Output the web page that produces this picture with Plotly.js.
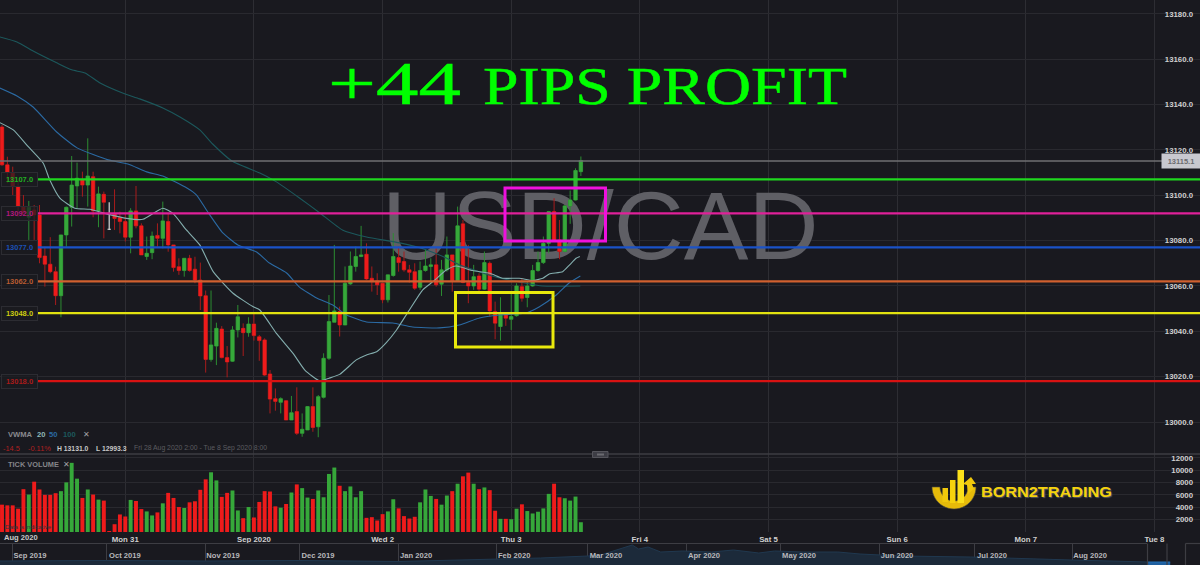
<!DOCTYPE html>
<html><head><meta charset="utf-8">
<script src="https://cdn.plot.ly/plotly-3.0.1.min.js"></script>
<style>html,body{margin:0;padding:0;background:#19191f;overflow:hidden}#c{width:1200px;height:565px}</style>
</head><body><div id="c"></div>
<script>
// candle index 0 = first hourly bar, Fri 28 Aug 2020
const opens=[13130.1,13113.4,13110,13103.8,13095,13090.3,13093.5,13091.3,13073.2,13069.6,13066.3,13055.7,13082.5,13094.7,13104.1,13106.7,13104.5,13108.2,13093.1,13100.4,13085,13091.8,13090.1,13088.4,13081.5,13093.1,13086.5,13073,13074.7,13082.3,13081,13088.4,13078.1,13068.5,13066.8,13072.2,13067.4,13062.6,13055.7,13027.6,13033.5,13041,13028.4,13026.8,13040.6,13041.3,13039.4,13043.2,13037.6,13036.2,13021.2,13010.3,13008.7,13009.4,13000.9,13004.6,12995,12996.5,13006.8,12997.9,13010.9,13028.1,13044,13048.7,13042.8,13060.9,13068.6,13073,13074,13063.4,13062.2,13061.2,13053.9,13064.6,13072.5,13070.8,13067.1,13066.3,13059.4,13066.8,13068.6,13069.3,13060.8,13067.1,13073.7,13062.4,13087.4,13061.5,13060,13064.4,13058.6,13070,13048.7,13042.1,13047.7,13045.3,13046.9,13059.7,13054.9,13060,13066.8,13070.3,13078.8,13092.8,13080.3,13075.2,13095.3,13097.9,13110.4];
const highs=[13131,13117,13112.6,13106.8,13100.1,13097.5,13095.7,13095.7,13077.3,13081.5,13068.5,13082.5,13095,13117.3,13114.4,13110.4,13125.1,13110.4,13103.8,13101.6,13096.9,13102.6,13092.8,13092,13094.3,13104.1,13087.6,13081.8,13084,13087.6,13097.2,13092,13078.1,13072.2,13072.2,13073.7,13072.9,13070.3,13058,13058,13043.8,13042.3,13033.5,13042.3,13051.6,13043.5,13046.2,13047.9,13038.4,13036.9,13022.9,13014.8,13010.9,13009.7,13011.5,13015.3,13003.8,13007,13015.3,13011.9,13030.3,13056,13078.1,13050.9,13068.6,13075.2,13077.4,13086.5,13078.8,13068.6,13065.6,13061.2,13064.9,13083.3,13077.4,13075.2,13069.3,13070,13070.8,13076.3,13072.2,13076.6,13071.5,13081.8,13073.7,13095,13089.1,13078.1,13069.3,13065.6,13075.2,13070.8,13053.1,13055,13048,13056.8,13061.2,13063.4,13061.9,13069.3,13075.2,13081.8,13093.1,13098.7,13089.1,13095.7,13102.1,13111.9,13117.1];
const lows=[13113,13105.3,13100.1,13090.3,13091.3,13080.3,13080.3,13070,13059.7,13065.6,13051.6,13046.2,13077.3,13086.2,13094.3,13099.4,13095,13090.3,13085.9,13081,13084.7,13084.7,13083.2,13079.6,13074.4,13085.4,13073.7,13071.5,13071.8,13077.3,13076.6,13075.1,13066.3,13064.9,13064.1,13066.3,13061.2,13049.4,13021.8,13026.6,13025.1,13028.1,13019.7,13026.5,13037.3,13029.1,13037.6,13035.9,13027,13020.3,13003.8,13005,13003.8,13000.9,13000.9,12994.3,12993.5,12996.5,12995.7,12993.3,13010.4,13027.4,13044,13037.7,13042.8,13060.5,13066.3,13072.7,13062.7,13057.5,13056,13052.4,13052.7,13064.1,13066.3,13066.3,13061.5,13058.3,13058.3,13066.3,13061.2,13059.7,13055.6,13066.3,13057.5,13061.9,13061.2,13052.4,13058.3,13056.8,13058.3,13046.5,13036.5,13035.9,13042.4,13040.6,13046.5,13053.1,13050.6,13059.7,13066.3,13069.7,13074.4,13080.3,13071.8,13074.9,13087.4,13097.7,13108.5];
const closes=[13113.4,13110,13104.1,13095,13092.3,13094.7,13091.3,13072.5,13069.6,13066.3,13055.7,13082.5,13094.7,13104.5,13107.5,13104.5,13108.5,13093.1,13100.6,13096.9,13085,13089.8,13088.4,13081.5,13093.1,13086.5,13073.7,13074.4,13082,13081,13088.7,13078.1,13068.1,13066.8,13072.2,13066.8,13062.6,13055.6,13027.6,13034,13041.3,13028.4,13026.5,13040.6,13046.4,13039.4,13043.2,13038.1,13035.9,13020.7,13010.1,13009.1,13010.3,13000.9,13004.1,12995,12996.8,13006.8,12997.6,13011.2,13028.1,13044.3,13049,13042.8,13061.2,13068.8,13073,13073.7,13063.1,13061.9,13060.5,13053.9,13064.9,13073,13070.3,13067.1,13066,13059,13066.8,13068.8,13069.3,13060.5,13067.1,13073.7,13062.4,13086.5,13061.5,13060,13064.1,13058.6,13070.3,13049,13043.6,13048.3,13045.8,13046.5,13060,13054.6,13060,13066.8,13070.3,13078.8,13092.8,13080.3,13075.2,13095.3,13097.9,13110.9,13115.3];
const volumes=[4420,4310,4310,3770,6930,6060,8140,6880,6010,6010,6280,6610,8030,11190,8630,5510,6880,6060,5240,5080,160,1260,2840,2510,5190,5020,3710,3330,2680,3170,4640,6330,5510,4040,3880,4800,4970,6830,8520,9660,8350,5680,6330,6720,3490,2240,4040,2350,4860,6610,6550,4150,3930,4530,6390,7700,7100,5570,5350,6720,5620,9390,10430,7480,6610,7370,5620,6610,2290,2400,1860,2890,3330,5300,3820,2570,2180,2460,4800,6880,5840,5350,4420,5900,6610,7810,9010,9610,7810,6930,7210,6770,3440,2130,2130,2070,3770,4480,3390,3000,3280,3820,6170,7810,5620,5460,5080,5730,1580];

// VWMA lines, read as vertices: candle position and price
const vwma20X=[-0.4,2.1,4.9,7.7,8.9,10.8,13.6,16.4,19.5,23.2,26.3,30,31.9,34.4,36.9,39.4,43.1,46.8,48.1,51.2,54.3,56.5,59.3,61,63,66.1,68,69.9,71.7,73.6,76,78.5,80.4,82.9,84.7,87.8,91,93.4,96.5,99,100.9,102.1,104.6,105.9,107.1,107.8];
const vwma20Y=[13132,13128.8,13121.4,13114.1,13106.8,13098.7,13094.3,13093.8,13091.8,13089.8,13089.4,13094.3,13092,13084.7,13078.1,13066.3,13056.8,13050.9,13049.4,13039.1,13030.3,13022.9,13018.1,13019.3,13021,13027.4,13029.6,13031,13035,13040.6,13049.4,13058.3,13061.9,13067,13068.8,13066.8,13065.6,13063.4,13063.4,13062.4,13063.4,13065.3,13066.3,13069.3,13072.2,13073];
const vwma50X=[-0.4,2.8,5.8,10.2,14,19.8,23.5,27,30,34.5,36.3,38.4,41.2,44,47.5,49.9,53.1,55.5,58.7,61.7,64.3,68,72.9,76.6,81.6,85.3,89.1,92.8,97.8,100.2,103.4,105.8,107.9];
const vwma50Y=[13147.3,13143.8,13138.9,13127.9,13120.9,13115.6,13113.8,13110.3,13108.5,13103.2,13100.1,13092.6,13083.4,13078.1,13075,13070.1,13065.7,13059.5,13054.7,13051.6,13047.2,13044.1,13043.7,13041.9,13041.5,13042.8,13045.9,13047.2,13048.1,13050.7,13056,13061.3,13064.4];
const vwma100X=[-0.4,2.8,5.8,10.2,13,15.5,18.3,22.5,25.7,30,33.2,36.9,39.3,42.9,48.1,51.2,55.5,59.3,63.5,68,74.2,79.2,82.9,85.3,89.1,92.8,96.5,100.8,107.9];
const vwma100Y=[13169.8,13167.6,13163.6,13158.4,13155.3,13153.9,13149.5,13145.1,13142.5,13138.5,13134.5,13128.8,13122.6,13115.1,13109.8,13105.9,13098.8,13092.2,13084.7,13081.6,13079,13075.9,13072.3,13069.3,13066.2,13063.5,13061.8,13060,13060];

const levels=[13107,13092,13077,13062,13048,13018];
const levelLabels=["13107.0","13092.0","13077.0","13062.0","13048.0","13018.0"];
const levelColors=["#1fd81f","#e0209a","#1a52c8","#d0602f","#e2e210","#d81212"];
const levelTextColors=["#22b022","#b0187c","#1c50b4","#b85c32","#cccc10","#a81a1a"];

const priceTicks=[13000,13020,13040,13060,13080,13100,13120,13140,13160,13180];
const volumeTicks=[2000,4000,6000,8000,10000,12000];
const timeTickPos=[23,47,71,95,119,143,167,191,215];
const timeTickText=["Mon 31","Sep 2020","Wed 2","Thu 3","Fri 4","Sat 5","Sun 6","Mon 7","Tue 8"];

const navDates=["2019-08-28","2019-10-01","2019-11-01","2019-12-01","2020-01-01","2020-02-01","2020-02-15","2020-03-01","2020-03-05","2020-03-15","2020-03-17","2020-03-20","2020-03-24","2020-03-31","2020-04-09","2020-04-16","2020-04-24","2020-04-29","2020-05-08","2020-05-19","2020-05-26","2020-06-08","2020-06-30","2020-08-01","2020-08-25"];
const navValues=[13199,13240,13199,13240,13158,13361,13442,13604,13685,14495,14171,14333,13928,14009,13928,14090,13847,14009,13928,13928,13766,13604,13523,13280,13118];
const navWindowDates=["2020-08-25","2020-09-01"];
const navWindowValues=[13118,13118];
const navTicks=["2019-09-01","2019-10-01","2019-11-01","2019-12-01","2020-01-01","2020-02-01","2020-03-01","2020-04-01","2020-05-01","2020-06-01","2020-07-01","2020-08-01"];
const navTickText=["Sep 2019","Oct 2019","Nov 2019","Dec 2019","Jan 2020","Feb 2020","Mar 2020","Apr 2020","May 2020","Jun 2020","Jul 2020","Aug 2020"];

const W=1200,H=565,PITCH=5.36,X0=2;
const px=p=>(p-X0)/PITCH;
const ax=p=>p/W, ay=p=>1-p/H;
const FONT="Liberation Sans, Arial, sans-serif";
const idx=opens.map((_,i)=>i);
const DOJI=20;
const notDoji=idx.filter(i=>i!==DOJI);
const RED="#ee1b1b",GREEN="#36a83a";
const isUp=i=>closes[i]>opens[i];

const priceRange=[12985.9,13186.1];
const traces=[];
traces.push({type:'scatter',mode:'text',x:[111.6],y:[13082.4],text:['USD/CAD'],textposition:'middle center',
  textfont:{family:FONT,size:97,color:'#5f5f65'},xaxis:'x',yaxis:'y',hoverinfo:'skip',showlegend:false,cliponaxis:false});
const pick=(a,s)=>s.map(i=>a[i]);
traces.push({type:'candlestick',x:notDoji,open:pick(opens,notDoji),high:pick(highs,notDoji),low:pick(lows,notDoji),close:pick(closes,notDoji),
  xaxis:'x',yaxis:'y4',whiskerwidth:0,
  increasing:{line:{color:'#2c8c32',width:1},fillcolor:'rgba(0,0,0,0)'},
  decreasing:{line:{color:'#a81c1c',width:1},fillcolor:'rgba(0,0,0,0)'},hoverinfo:'skip',showlegend:false});
traces.push({type:'candlestick',x:notDoji,open:pick(opens,notDoji),close:pick(closes,notDoji),
  high:notDoji.map(i=>Math.max(opens[i],closes[i])),low:notDoji.map(i=>Math.min(opens[i],closes[i])),
  xaxis:'x',yaxis:'y4',whiskerwidth:0,
  increasing:{line:{color:GREEN,width:0},fillcolor:GREEN},
  decreasing:{line:{color:RED,width:0},fillcolor:RED},hoverinfo:'skip',showlegend:false});
traces.push({type:'candlestick',x:[DOJI],open:[opens[DOJI]],high:[highs[DOJI]],low:[lows[DOJI]],close:[closes[DOJI]],
  xaxis:'x',yaxis:'y4',whiskerwidth:0,
  increasing:{line:{color:'#d8d8d8',width:1.2},fillcolor:'#d8d8d8'},decreasing:{line:{color:'#d8d8d8',width:1.2},fillcolor:'#d8d8d8'},hoverinfo:'skip',showlegend:false});
[[vwma100X,vwma100Y,'#1c585c'],[vwma50X,vwma50Y,'#2b6aa3'],[vwma20X,vwma20Y,'#84aeae']].forEach(s=>{
  traces.push({type:'scatter',mode:'lines',x:s[0],y:s[1],line:{color:s[2],width:1.1,shape:'spline',smoothing:0.5},xaxis:'x',yaxis:'y4',hoverinfo:'skip',showlegend:false});
});
traces.push({type:'scatter',mode:'lines',x:[px(0),px(1162)],y:[13115.1,13115.1],line:{color:'#6f6f73',width:1.5},xaxis:'x',yaxis:'y4',hoverinfo:'skip',showlegend:false});
levels.forEach((l,k)=>{
  traces.push({type:'scatter',mode:'lines',x:[px(38),px(1200)],y:[l,l],line:{color:levelColors[k],width:2.2},xaxis:'x',yaxis:'y4',hoverinfo:'skip',showlegend:false});
});
traces.push({type:'bar',x:idx,y:volumes,marker:{color:idx.map(i=>isUp(i)?GREEN:RED),line:{width:0}},xaxis:'x',yaxis:'y2',hoverinfo:'skip',showlegend:false});
traces.push({type:'scatter',mode:'lines',x:navDates,y:navValues,fill:'tozeroy',fillcolor:'#1c2a3a',line:{color:'#20384f',width:1},xaxis:'x2',yaxis:'y3',hoverinfo:'skip',showlegend:false});
traces.push({type:'scatter',mode:'lines',x:navWindowDates,y:navWindowValues,fill:'tozeroy',fillcolor:'#1f5f9f',line:{color:'#2370b8',width:1},xaxis:'x2',yaxis:'y3',hoverinfo:'skip',showlegend:false});

const annotations=[];
levels.forEach((l,k)=>annotations.push({xref:'paper',yref:'y',x:ax(19),y:l,text:levelLabels[k],showarrow:false,
  font:{family:FONT,size:7.5,color:levelTextColors[k],weight:700},bgcolor:'rgba(26,26,32,0.72)',bordercolor:'#2c2c32',borderwidth:1,borderpad:0,width:35,height:13,xanchor:'center',yanchor:'middle'}));
const note=(x,y,text,font,extra)=>annotations.push(Object.assign({xref:'paper',yref:'paper',x:ax(x),y:ay(y),text,showarrow:false,xanchor:'left',yanchor:'middle',borderpad:0,font:Object.assign({family:FONT},font)},extra||{}));
note(394,82.5,'+44',{family:'Liberation Serif, serif',size:62,color:'#00ff00'},{xanchor:'center'});
note(665,85.5,'PIPS PROFIT',{family:'Liberation Serif, serif',size:53,color:'#00ff00'},{xanchor:'center'});
note(1181,161,'13115.1',{size:7.5,color:'#6c6c70',weight:700},{xanchor:'center',bgcolor:'#c8c8cf',width:38,height:14});
const S=7.6;
note(6.5,434.5,'VWMA',{size:S,color:'#8a8a8e',weight:700});
note(35.5,434.5,'20',{size:S,color:'#8fb9b9',weight:700});
note(48.5,434.5,'50',{size:S,color:'#2b6aa3',weight:700});
note(62,434.5,'100',{size:S,color:'#1c585c',weight:700});
note(82,434.5,'✕',{size:S,color:'#a0a0a4'});
note(2,448,'-14.5',{size:7.4,color:'#b02020'});
note(26.5,448,'-0.11%',{size:7.4,color:'#b02020'});
note(55.5,448,'H 13131.0',{size:6.8,color:'#c8c8c8',weight:700});
note(95,448,'L 12993.3',{size:6.8,color:'#c8c8c8',weight:700});
note(133,448,'Fri 28 Aug 2020 2:00 - Tue 8 Sep 2020 8:00',{size:6.85,color:'#5c5c60'});
note(7,464.5,'TICK VOLUME',{size:7.4,color:'#85858a',weight:700});
note(62,464.5,'✕',{size:S,color:'#a0a0a4'});
note(4,526,'Data is indicative',{size:6.1,color:'#33333a'});
note(2.5,537.3,'Aug 2020',{size:7.6,color:'#c8c8c8',weight:700});
note(1046,491,'BORN2TRADING',{size:15,color:'#f5d20d',weight:700,shadow:'1px 1px 1px #5a5a5a'},{xanchor:'center'});

const rect=(x0,x1,y0,y1,c)=>({type:'rect',xref:'x',yref:'y',x0:px(x0),x1:px(x1),y0:13000+(422-y0)*0.4411,y1:13000+(422-y1)*0.4411,line:{color:c,width:3},fillcolor:'rgba(0,0,0,0)',layer:'above'});
const pp=(x,y)=>ax(x).toFixed(5)+','+ay(y).toFixed(5);
const chromeLine=(x0,y0,x1,y1,c,w)=>({type:'line',xref:'paper',yref:'paper',x0:ax(x0),y0:ay(y0),x1:ax(x1),y1:ay(y1),line:{color:c,width:w},layer:'above'});
const arcPts=(cx,cy,r,a0,a1,n)=>{let s=[];for(let k=0;k<=n;k++){const a=(a0+(a1-a0)*k/n)*Math.PI/180;s.push(pp(cx+r*Math.cos(a),cy+r*Math.sin(a)));}return s;};
const shapes=[
  rect(455.5,553,292.5,347,'#e8e80c'),
  rect(505,605.5,188,241,'#ee10dd'),
  chromeLine(0,454,1200,454,'#3d3d43',1.5),
  chromeLine(0,543.5,1147,543.5,'#3d3d43',1.2),
  chromeLine(1147.5,543.5,1147.5,565,'#3d3d43',1.2),
  chromeLine(1167,543.5,1167,565,'#3d3d43',1.2),
  chromeLine(1185.5,543.5,1200,543.5,'#3d3d43',1.2),
  chromeLine(1185.5,543.5,1185.5,565,'#3d3d43',1.2),
  {type:'rect',xref:'paper',yref:'paper',x0:ax(592.5),x1:ax(608),y0:ay(451.5),y1:ay(457.5),fillcolor:'#3d3d45',line:{color:'#55555c',width:1},layer:'above'},
  {type:'rect',xref:'paper',yref:'paper',x0:ax(597),x1:ax(604),y0:ay(453.5),y1:ay(455.5),fillcolor:'#6a6a70',line:{width:0},layer:'above'},
  {type:'path',xref:'paper',yref:'paper',path:'M'+arcPts(954,487,22,180,0,24).join('L')+'L'+arcPts(954,487,14,0,180,24).join('L')+'Z',fillcolor:'#e6bb0a',line:{color:'#4a4a40',width:0.6},layer:'above'},
  {type:'rect',xref:'paper',yref:'paper',x0:ax(942.5),x1:ax(948),y0:ay(488),y1:ay(502),fillcolor:'#f0c80c',line:{width:0},layer:'above'},
  {type:'rect',xref:'paper',yref:'paper',x0:ax(950),x1:ax(955.5),y0:ay(480),y1:ay(503),fillcolor:'#f5d20d',line:{width:0},layer:'above'},
  {type:'rect',xref:'paper',yref:'paper',x0:ax(957.5),x1:ax(964),y0:ay(470),y1:ay(503),fillcolor:'#fbe01a',line:{width:0},layer:'above'},
  {type:'path',xref:'paper',yref:'paper',path:'M'+pp(976,484)+'L'+pp(971,477)+'L'+pp(963,484)+'L'+pp(967,485)+'L'+pp(968,494)+'L'+pp(974,489)+'L'+pp(972,484)+'Z',fillcolor:'#f0c80c',line:{width:0},layer:'above'}
];

const gridC='#29292f';
const tickFont={family:FONT,size:7.8,color:'#d0d0d0',weight:700};
const layout={width:W,height:H,margin:{l:0,r:0,t:0,b:0},paper_bgcolor:'#19191f',plot_bgcolor:'#19191f',showlegend:false,
  boxgap:0.1,bargap:0.27,
  xaxis:{domain:[0,1],range:[px(0),px(1200)],anchor:'y2',showgrid:true,gridcolor:'#2d2d33',gridwidth:1,zeroline:false,showline:false,ticks:'',
    tickmode:'array',tickvals:timeTickPos,ticktext:timeTickText,tickfont:tickFont,rangeslider:{visible:false},ticklabelstandoff:1,fixedrange:true},
  yaxis:{domain:[ay(454),1],range:priceRange,side:'right',anchor:'x',showgrid:true,gridcolor:gridC,zeroline:false,showline:false,ticks:'',
    tickmode:'array',tickvals:priceTicks,ticktext:priceTicks.map(v=>v.toFixed(1)),ticklabelposition:'inside',ticklabeloverflow:'allow',ticklabelstandoff:4,tickfont:tickFont,fixedrange:true},
  yaxis4:{overlaying:'y',range:priceRange,side:'right',visible:false,anchor:'x',fixedrange:true},
  yaxis2:{domain:[ay(532),ay(454)],range:[0,12620],side:'right',anchor:'x',showgrid:true,gridcolor:gridC,zeroline:false,showline:false,ticks:'',
    tickmode:'array',tickvals:volumeTicks,ticktext:volumeTicks.map(String),ticklabelposition:'inside',ticklabeloverflow:'allow',ticklabelstandoff:4,tickfont:tickFont,fixedrange:true},
  xaxis2:{domain:[0,1],type:'date',range:['2019-08-28 05:00','2020-09-10 10:00'],anchor:'y3',showgrid:true,gridcolor:'#3d3d43',gridwidth:1,zeroline:false,showline:false,ticks:'',
    tickmode:'array',tickvals:navTicks,ticktext:navTickText,ticklabelposition:'inside',ticklabelshift:18,ticklabelstandoff:2,tickfont:{family:FONT,size:7.6,color:'#b8b8bc',weight:700},fixedrange:true},
  yaxis3:{domain:[0,ay(544)],range:[12875,14576],anchor:'x2',visible:false,fixedrange:true},
  annotations,shapes,hovermode:false};

Plotly.newPlot('c',traces,layout,{displayModeBar:false,staticPlot:true}).then(()=>{
  const widths={'+44':133,'PIPS PROFIT':364,'BORN2TRADING':131};
  document.querySelectorAll('.annotation-text').forEach(t=>{
    const s=t.textContent, w=widths[s];
    if(w){t.setAttribute('textLength',w);t.setAttribute('lengthAdjust','spacingAndGlyphs');}
    if(s==='+44'||s==='PIPS PROFIT'){t.style.stroke='#00ff00';t.style.strokeWidth='0.5px';}
  });
});
</script></body></html>
